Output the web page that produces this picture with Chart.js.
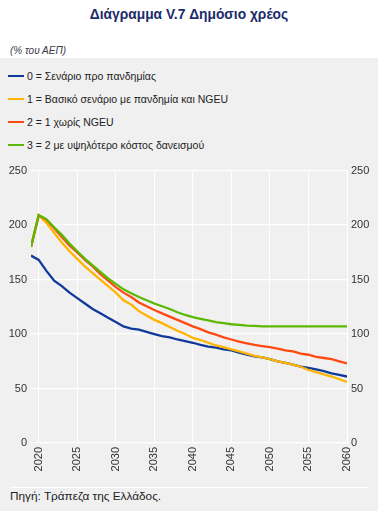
<!DOCTYPE html>
<html><head><meta charset="utf-8">
<script src="https://cdn.jsdelivr.net/npm/chart.js@4/dist/chart.umd.min.js"></script>
<style>
body{margin:0;width:378px;height:511px;background:#fff;font-family:"Liberation Sans",Arial,sans-serif;position:relative;overflow:hidden}
#title{position:absolute;top:7px;left:0;width:378px;text-align:center;font-weight:bold;font-size:13.8px;color:#1b2b6b}
#unit{position:absolute;top:45px;left:10px;font-style:italic;font-size:10px;color:#3a3a4a}
#panel{position:absolute;top:58px;left:0;width:378px;height:453px;background:#f0f0f0}
.lg{position:absolute;left:8px;font-size:10.5px;color:#222;white-space:nowrap}
.lg span{display:inline-block;width:16px;height:2.5px;vertical-align:middle;margin-right:3px;position:relative;top:-1px}
#sep{position:absolute;top:487px;left:10px;width:358px;height:1px;background:#fff}
#src{position:absolute;top:489px;left:10px;font-size:11.8px;color:#222}
#wrap{position:absolute;top:160px;left:0;width:378px;height:320px}
</style></head><body>
<div id="title">Διάγραμμα V.7 Δημόσιο χρέος</div>
<div id="unit">(% του ΑΕΠ)</div>
<div id="panel"></div>
<div id="legend"></div>
<div id="sep"></div>
<div id="src">Πηγή: Τράπεζα της Ελλάδος.</div>
<div id="wrap"><canvas id="c" width="378" height="320"></canvas></div>
<script>
const years = [2019,2020,2021,2022,2023,2024,2025,2026,2027,2028,2029,2030,2031,2032,2033,2034,2035,2036,2037,2038,2039,2040,2041,2042,2043,2044,2045,2046,2047,2048,2049,2050,2051,2052,2053,2054,2055,2056,2057,2058,2059,2060];
const xTicks = [2020,2025,2030,2035,2040,2045,2050,2055,2060];
const yTicks = [0,50,100,150,200,250];
const seriesNames = ["0 = Σενάριο προ πανδημίας","1 = Βασικό σενάριο με πανδημία και NGEU","2 = 1 χωρίς NGEU","3 = 2 με υψηλότερο κόστος δανεισμού"];
const scenario0 = [172,168,158,149,144,138,133,128,123,119,115,111,107,105,104,102,100,98,97,95,93.5,92,90,88.5,87.5,86,85,83,81,79.5,78.5,77,75,73.5,72,70,69,67.5,66,64,62.5,61];
const scenario1 = [180,209,202,193,184,176,169,162,156,150,144,138,131,127,121,117,113,110,106.5,103,100,96.5,94.5,92,89.5,88,86,84,82,80,78.5,77,75,73.5,72,70,67,65,63,61,58.5,56];
const scenario2 = [180,209,205,197,189,181,175,168,162,155,149,143,138,134,129,125.5,122,119,116,113,110,107,104.5,101.5,99.5,97,95,93,91.5,90,89,88,86.5,85,84,82,81,79,78,77,75,73];
const scenario3 = [180,209,205.5,198,191,183,176,169,163,157,151,146,141,137.5,134,131,128,125.5,123,120,117.5,115.5,114,112.5,111,110,109,108.5,107.7,107.5,107,107,107,107,107,107,107,107,107,107,107,107];
const colors = ["#0f3a9c","#ffb400","#ff4a12","#5cb800"];
const allSeries = [scenario0,scenario1,scenario2,scenario3];

const lg = document.getElementById('legend');
seriesNames.forEach((n,i)=>{
  const d=document.createElement('div');d.className='lg';d.style.top=(70+i*23)+'px';
  d.innerHTML='<span style="background:'+colors[i]+'"></span>'+n;lg.appendChild(d);
});

const datasets = allSeries.map((s,i)=>({
  label: seriesNames[i],
  data: years.map((y,k)=>({x:y,y:s[k]})),
  borderColor: colors[i], backgroundColor: colors[i],
  borderWidth: 2.3, pointRadius: 0, tension: 0, yAxisID: 'y', order: 3-i
}));
const tickFont = {family:'"Liberation Sans", Arial, sans-serif', size:11};
new Chart(document.getElementById('c'), {
  type:'line',
  data:{datasets},
  options:{
    responsive:false, animation:false,
    layout:{padding:{top:8,left:0,right:0,bottom:0}},
    plugins:{legend:{display:false},tooltip:{enabled:false}},
    scales:{
      x:{type:'linear',min:2019,max:2060,
        afterBuildTicks:(a)=>{a.ticks=xTicks.map(v=>({value:v}));},
        afterFit:(a)=>{a.height=37;},
        grid:{color:'#ffffff',lineWidth:1,drawTicks:false},
        border:{display:false},
        ticks:{minRotation:90,maxRotation:90,autoSkip:false,padding:4,color:'#333',font:tickFont,callback:v=>String(v)}},
      y:{position:'left',min:0,max:250,
        afterBuildTicks:(a)=>{a.ticks=yTicks.map(v=>({value:v}));},
        afterFit:(a)=>{a.width=31;},
        grid:{color:'#ffffff',lineWidth:1.3,drawTicks:false},
        border:{display:false},
        ticks:{padding:4,color:'#333',font:tickFont}},
      y2:{position:'right',min:0,max:250,
        afterBuildTicks:(a)=>{a.ticks=yTicks.map(v=>({value:v}));},
        afterFit:(a)=>{a.width=31;},
        grid:{display:false,drawTicks:false},
        border:{display:false},
        ticks:{padding:4,color:'#333',font:tickFont}}
    }
  }
});
</script>
</body></html>
